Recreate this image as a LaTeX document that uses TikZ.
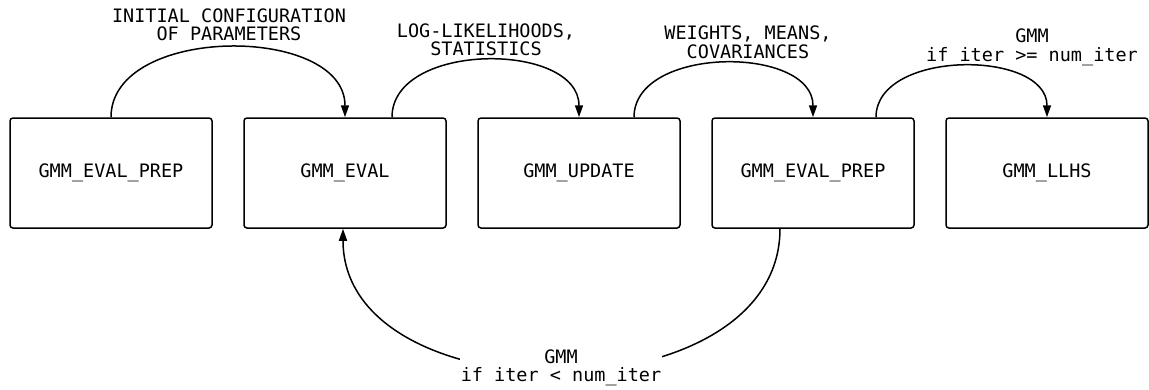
\documentclass[tikz,border=0pt]{standalone}
\usepackage{fontspec}
\setmonofont{DejaVu Sans Mono}
\usetikzlibrary{arrows.meta,calc}
\begin{document}
\begin{tikzpicture}[x=1pt,y=-1pt,
  font=\ttfamily\fontsize{18.5}{18.5}\selectfont,
  box/.style={draw, line width=1.5pt, rounded corners=3pt, minimum width=202pt, minimum height=110pt, inner sep=0pt},
  lbl/.style={align=center, inner sep=0pt},
  conn/.style={line width=1.5pt, -{Triangle[length=12pt,width=8pt]}}]
\useasboundingbox (0,0) rectangle (1149,389);
\fill[white] (0,0) rectangle (1149,389);

\node[box] (b1) at (111,173) {GMM\_EVAL\_PREP};
\node[box] (b2) at (345,173) {GMM\_EVAL};
\node[box] (b3) at (579,173) {GMM\_UPDATE};
\node[box] (b4) at (813,173) {GMM\_EVAL\_PREP};
\node[box] (b5) at (1047,173) {GMM\_LLHS};

\draw[conn] (b1.north) .. controls +(0,-93) and +(0,-93) .. (b2.north);
\draw[conn] ($(b2.north)+(47,0)$) .. controls +(0,-76) and +(0,-76) .. (b3.north);
\draw[conn] ($(b3.north)+(55,0)$) .. controls +(0,-72) and +(0,-72) .. (b4.north);
\draw[conn] ($(b4.north)+(63,0)$) .. controls +(0,-68) and +(0,-68) .. (b5.north);
\draw[conn] ($(b4.south)+(-33,0)$) .. controls +(0,189) and +(0,189) .. ($(b2.south)+(-2,0)$);

\node[lbl] (l1) at (229,25) {INITIAL CONFIGURATION\\OF PARAMETERS};
\node[lbl] (l2) at (486,40) {LOG-LIKELIHOODS,\\STATISTICS};
\node[lbl] (l3) at (748,42.5) {WEIGHTS, MEANS,\\COVARIANCES};
\node[lbl] (l4) at (1032,47.5) {GMM\\if iter >= num\_iter};
\node[lbl, fill=white, inner sep=1pt] (l5) at (561,368) {GMM\\if iter < num\_iter};
\end{tikzpicture}
\end{document}
